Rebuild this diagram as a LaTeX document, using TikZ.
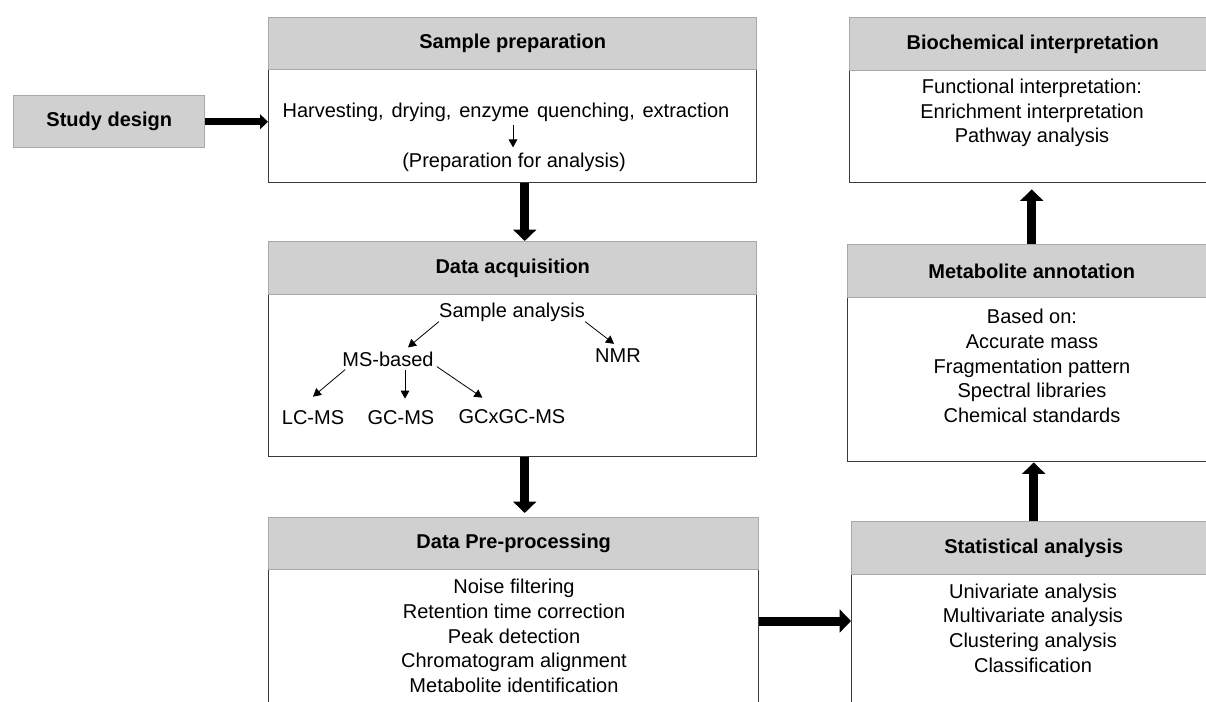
\documentclass[tikz,border=0pt]{standalone}
\usepackage{fontspec}
\setmainfont{Liberation Sans}
\usetikzlibrary{arrows.meta,calc}
\definecolor{hfill}{HTML}{D0D0D0}
\definecolor{hline}{HTML}{A8A8A8}
\definecolor{bline}{HTML}{3A3A3A}
\begin{document}
\begin{tikzpicture}[x=0.75pt,y=-0.75pt,
 every node/.style={font=\fontsize{15}{18.5}\selectfont},
 hdr/.style={draw=hline, fill=hfill, line width=1.1pt, anchor=north west, inner sep=0pt, font=\fontsize{15}{18.5}\selectfont\bfseries},
 bodybox/.style={draw=bline, fill=white, line width=1.1pt, anchor=north west, inner sep=0pt},
 txt/.style={inner sep=0pt, align=center},
 bigarrow/.style={line width=6.75pt, -{Triangle[width=17pt,length=8.5pt]}},
 medarrow/.style={line width=5pt, -{Triangle[width=11pt,length=6pt]}},
 smallarrow/.style={line width=0.6pt, -{Triangle[width=6.5pt,length=6pt]}}]
\useasboundingbox (0,0) rectangle (1206,702);
\clip (0,0) rectangle (1206,702);
\fill[white] (0,0) rectangle (1206,702);

% Study design
\node[hdr, minimum width=143.25pt, minimum height=39pt] (sd) at (13,95) {Study design};

% Sample preparation
\node[bodybox, minimum width=366pt, minimum height=84.75pt] (spb) at (268,69) {};
\node[hdr, minimum width=366pt, minimum height=39pt] (sph) at (268,17) {Sample preparation};
\node[txt] (hv) at (506,112) {\spaceskip=5.8pt Harvesting, drying, enzyme quenching, extraction};
\node[txt] (pa) at (514,162) {(Preparation for analysis)};
\draw[smallarrow] ($(hv.south -| pa.north)+(-1,3)$) -- ($(pa.north)+(-1,-5)$);

% Data acquisition
\node[bodybox, minimum width=366pt, minimum height=121.5pt] (dab) at (268,294) {};
\node[hdr, minimum width=366pt, minimum height=39.75pt] (dah) at (268,241) {Data acquisition};
\node[txt] (sa) at (512,312) {Sample analysis};
\node[txt] (ms) at (388,359) {MS-based};
\node[txt] (nmr) at (618,356) {NMR};
\node[txt] (lc) at (313,418) {LC-MS};
\node[txt] (gc) at (401,418) {GC-MS};
\node[txt] (gcx) at (512,417) {GCxGC-MS};
\draw[smallarrow] (sa.south west) -- ($(ms.north)+(20,-4)$);
\draw[smallarrow] (sa.south east) -- ($(nmr.north)+(-4,-5)$);
\draw[smallarrow] ($(ms.south west)+(3,3)$) -- ($(lc.north)+(0,-14)$);
\draw[smallarrow] ($(ms.south)+(17,3)$) -- ($(gc.north)+(4,-12)$);
\draw[smallarrow] ($(ms.south east)+(3,0)$) -- ($(gcx.north west)+(24,-12)$);

% Data pre-processing
\node[bodybox, minimum width=367.5pt, minimum height=113.25pt] (ppb) at (268,569) {};
\node[hdr, minimum width=367.5pt, minimum height=39pt] (pph) at (268,517) {Data Pre-processing};
\node[txt] (ppt) at (514,636) {Noise filtering\\Retention time correction\\Peak detection\\Chromatogram alignment\\Metabolite identification};

% Biochemical interpretation
\node[bodybox, minimum width=274.5pt, minimum height=84pt] (bib) at (849,70) {};
\node[hdr, minimum width=274.5pt, minimum height=39.75pt] (bih) at (849,17) {Biochemical interpretation};
\node[txt] (bit) at (1032,113) {Functional interpretation:\\Enrichment interpretation\\Pathway analysis};

% Metabolite annotation
\node[bodybox, minimum width=276pt, minimum height=123pt] (mab) at (847,297) {};
\node[hdr, minimum width=276pt, minimum height=39.75pt] (mah) at (847,244) {Metabolite annotation};
\node[txt] (mat) at (1032,366) {Based on:\\Accurate mass\\Fragmentation pattern\\Spectral libraries\\Chemical standards};

% Statistical analysis
\node[bodybox, minimum width=273pt, minimum height=109.5pt] (sab) at (851,574) {};
\node[hdr, minimum width=273pt, minimum height=39.75pt] (sah) at (851,521) {Statistical analysis\hspace{27pt}};
\node[txt] (sat) at (1033,628) {Univariate analysis\\Multivariate analysis\\Clustering analysis\\Classification};

% Main connectors
\draw[medarrow] (sd.east) -- (sd.east -| spb.west);
\draw[bigarrow] ($(spb.south)+(12,0)$) -- ($(dah.north)+(12,0)$);
\draw[bigarrow] ($(dab.south)+(12,0)$) -- ($(pph.north)+(11,-4)$);
\draw[bigarrow] ($(ppb.north east)+(0,52)$) -- ($(sab.north west)+(0,47)$);
\draw[bigarrow] (sah.north) -- (sah.north |- mab.south);
\draw[bigarrow, shorten >=4.5pt] (mah.north) -- (mah.north |- bib.south);
\end{tikzpicture}
\end{document}
